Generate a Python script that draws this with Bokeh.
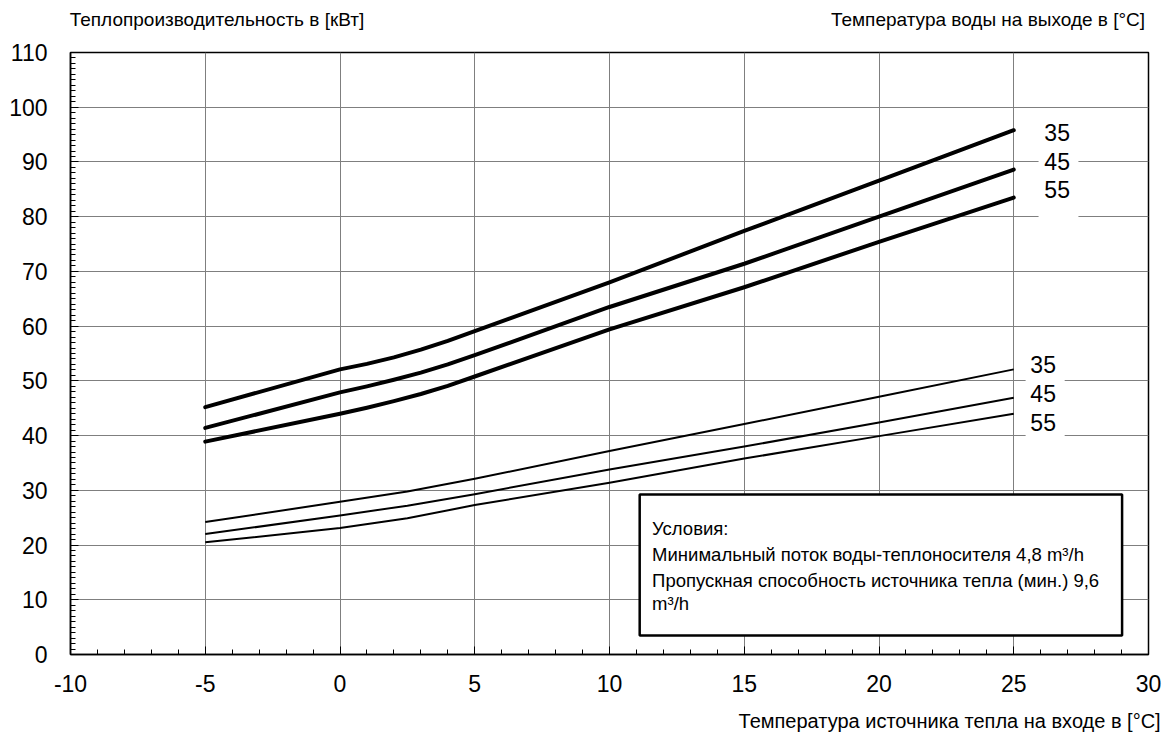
from bokeh.plotting import figure
from bokeh.models import (Range1d, SingleIntervalTicker, FixedTicker, Label,
                          BoxAnnotation, CustomJSTickFormatter, LinearAxis)
from bokeh.embed import file_html
from bokeh.resources import INLINE

FONT = "Liberation Sans"
W, H = 1168, 737

# ---- data ----
# upper group (thick lines)
high_temp = [-5, 0, 1, 2, 3, 4, 5, 10, 15, 20, 25]
high_35 = [45.2, 52.1, 53.1, 54.3, 55.7, 57.3, 59.1, 68.0, 77.4, 86.6, 95.8]
high_45 = [41.4, 47.9, 49.0, 50.2, 51.5, 53.0, 54.7, 63.5, 71.4, 80.0, 88.6]
high_55 = [38.9, 44.0, 45.1, 46.3, 47.6, 49.1, 50.8, 59.4, 67.1, 75.4, 83.5]

# lower group (thin lines)
low_temp = [-5, 0, 2.5, 5, 10, 15, 20, 25]
low_35 = [24.2, 27.9, 29.8, 32.1, 37.2, 42.1, 47.1, 52.1]
low_45 = [22.0, 25.4, 27.2, 29.3, 33.8, 38.0, 42.4, 46.9]
low_55 = [20.5, 23.1, 24.9, 27.3, 31.4, 35.8, 39.9, 44.0]

outlet_labels = ["35", "45", "55"]

y_title = "Теплопроизводительность в [кВт]"
right_title = "Температура воды на выходе в [°C]"
x_title = "Температура источника тепла на входе в [°C]"
cond_lines = [
    "Условия:",
    "Минимальный поток воды-теплоносителя 4,8 m³/h",
    "Пропускная способность источника тепла (мин.) 9,6",
    "m³/h",
]

# ---- figure ----
p = figure(width=W, height=H,
           x_range=Range1d(-10, 30), y_range=Range1d(0, 110),
           output_backend="svg", toolbar_location=None, title=None,
           min_border_left=70, min_border_right=W - 1148,
           min_border_top=52, min_border_bottom=H - 654)
p.background_fill_color = "white"
p.border_fill_color = "white"
p.outline_line_color = "black"
p.outline_line_width = 1.5

p.xaxis.ticker = SingleIntervalTicker(interval=5, num_minor_ticks=5)
p.yaxis.ticker = SingleIntervalTicker(interval=10, num_minor_ticks=10)
fmt = CustomJSTickFormatter(code="return String(tick);")
p.xaxis.formatter = fmt
p.yaxis.formatter = fmt

for ax in (p.xaxis[0], p.yaxis[0]):
    ax.axis_line_color = "black"
    ax.axis_line_width = 1.5
    ax.major_tick_in = 8
    ax.major_tick_out = 0
    ax.minor_tick_in = 5
    ax.minor_tick_out = 0
    ax.major_tick_line_color = "black"
    ax.minor_tick_line_color = "black"
    ax.major_label_text_font = FONT
    ax.major_label_text_font_size = "23px"
    ax.major_label_text_color = "black"
p.xaxis.major_label_standoff = 20
p.yaxis.major_label_standoff = 23

p.xgrid.grid_line_color = "#7f7f7f"
p.ygrid.grid_line_color = "#7f7f7f"
p.xgrid.grid_line_width = 1
p.ygrid.grid_line_width = 1


def title_axis(names, centers, standoff, size):
    return LinearAxis(
        ticker=FixedTicker(ticks=centers, minor_ticks=[]),
        formatter=CustomJSTickFormatter(args=dict(names=names),
                                        code="return names[index];"),
        axis_line_color=None, major_tick_line_color=None,
        minor_tick_line_color=None, major_tick_in=0, major_tick_out=0,
        major_label_standoff=standoff, major_label_text_font=FONT,
        major_label_text_font_size=size, major_label_text_color="black")


# titles above the frame (one row) and below the x tick labels
p.add_layout(title_axis([y_title, right_title], [-4.564, 24.045], 23, "19px"),
             "above")
p.add_layout(title_axis([x_title], [22.62], 15, "20px"), "below")

for ys in (high_35, high_45, high_55):
    p.line(high_temp, ys, line_width=4, line_color="black",
           line_cap="round", line_join="round")
for ys in (low_35, low_45, low_55):
    p.line(low_temp, ys, line_width=2, line_color="black",
           line_join="round")

# white backgrounds behind the curve labels
p.add_layout(BoxAnnotation(left=25.92, right=27.40, top=99.0, bottom=79.3,
                           fill_color="white", fill_alpha=1, line_color=None))
p.add_layout(BoxAnnotation(left=25.44, right=26.89, top=55.9, bottom=39.1,
                           fill_color="white", fill_alpha=1, line_color=None))

for t, yy in zip(outlet_labels, [95.32, 90.08, 84.9]):
    p.add_layout(Label(x=26.61, y=yy, text=t, text_font=FONT,
                       text_font_size="23px", text_align="center",
                       text_baseline="middle", text_color="black"))
for t, yy in zip(outlet_labels, [52.93, 47.63, 42.45]):
    p.add_layout(Label(x=26.09, y=yy, text=t, text_font=FONT,
                       text_font_size="23px", text_align="center",
                       text_baseline="middle", text_color="black"))

# conditions box
p.add_layout(BoxAnnotation(left=11.12, right=29.02, top=29.23, bottom=3.47,
                           fill_color="white", fill_alpha=1,
                           line_color="black", line_alpha=1, line_width=2.5))
for t, yy in zip(cond_lines, [23.02, 18.27, 13.61, 9.32]):
    p.add_layout(Label(x=11.58, y=yy, text=t, text_font=FONT,
                       text_font_size="18.5px", text_align="left",
                       text_baseline="middle", text_color="black"))

open("out.html", "w").write(file_html(p, INLINE))
